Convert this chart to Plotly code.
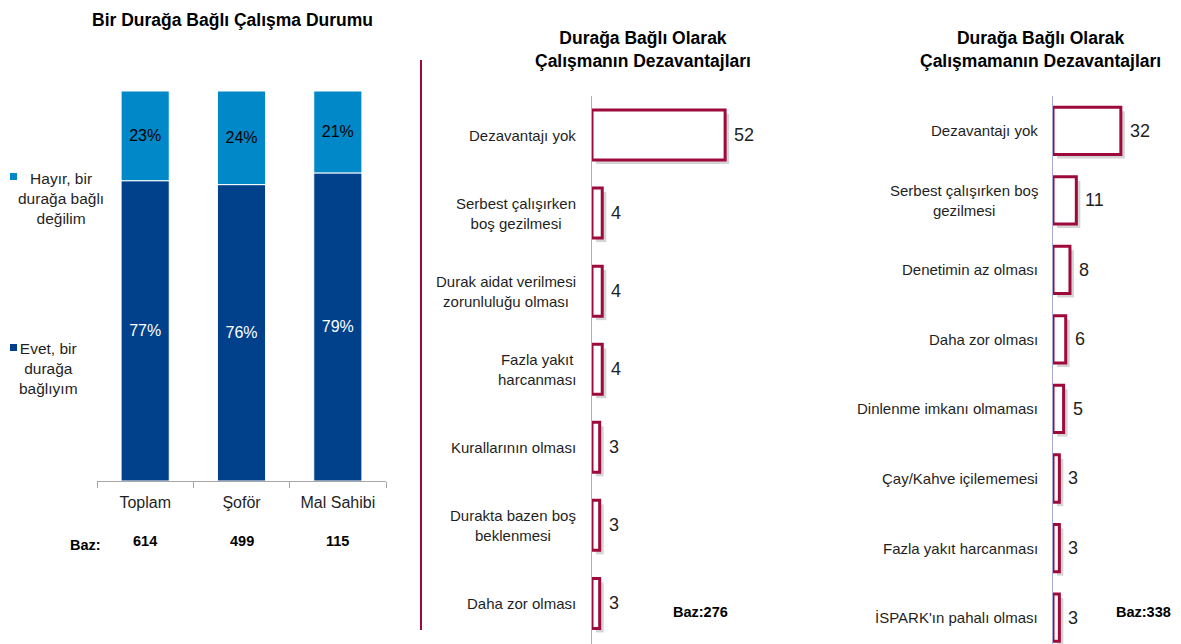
import plotly.graph_objects as go

# page body adds an 8px margin, so the figure is drawn 8px in from the corner
OFF = 8
W, H = 1181 - OFF, 644 - OFF

# left panel data
groups = ["Toplam", "Şoför", "Mal Sahibi"]
evet = [77, 76, 79]
hayir = [23, 24, 21]
baz_left = ["614", "499", "115"]

# middle panel data
yes_labels = ["Dezavantajı yok", "Serbest çalışırken<br>boş gezilmesi",
              "Durak aidat verilmesi<br>zorunluluğu olması", "Fazla yakıt<br>harcanması",
              "Kurallarının olması", "Durakta bazen boş<br>beklenmesi", "Daha zor olması"]
yes_values = [52, 4, 4, 4, 3, 3, 3]

# right panel data
no_labels = ["Dezavantajı yok", "Serbest çalışırken boş<br>gezilmesi", "Denetimin az olması",
             "Daha zor olması", "Dinlenme imkanı olmaması", "Çay/Kahve içilememesi",
             "Fazla yakıt harcanması", "İSPARK'ın pahalı olması"]
no_values = [32, 11, 8, 6, 5, 3, 3, 3]

FONT = "Liberation Sans, Arial, sans-serif"
DARK = "#01408A"
LIGHT = "#0088C8"
CRIMSON = "#9E0B3A"
AXIS = "#A9A9D6"
TXT = "#1F1F1F"
SHADOW = "#D4D4D4"


def px(x):
    return (x - OFF) / W


def py(y):
    return 1 - (y - OFF) / H


def note(x, y, text, size, color=TXT, **kw):
    d = dict(x=x, y=y, xref="paper", yref="paper", text=text, showarrow=False,
             xanchor="center", yanchor="middle", align="center",
             font=dict(size=size, color=color, family=FONT))
    d.update(kw)
    return d


def hbars(values, width, ppu, ppc, xa, ya):
    # soft drop shadow behind each outlined bar, then the bar itself
    n = len(values)
    sx, sy = 4 / ppu, 4 / ppc
    fig.add_trace(go.Bar(
        y=list(range(n)), x=values, base=[sx] * n, orientation="h",
        marker=dict(color=SHADOW, line=dict(width=0)),
        width=width, offset=-width / 2 + sy, hoverinfo="skip",
        xaxis=xa, yaxis=ya))
    fig.add_trace(go.Bar(
        y=list(range(n)), x=values, orientation="h",
        marker=dict(color="white", line=dict(color=CRIMSON, width=3)),
        width=width, offset=-width / 2, xaxis=xa, yaxis=ya))


fig = go.Figure()

# stacked bars
fig.add_trace(go.Bar(
    x=groups, y=evet, name="Evet, bir durağa bağlıyım",
    marker=dict(color=DARK, line=dict(color="white", width=1)),
    width=0.5, texttemplate="%{y}%", textposition="inside",
    insidetextanchor="middle", textangle=0,
    textfont=dict(color="white", size=16, family=FONT),
    xaxis="x", yaxis="y"))
fig.add_trace(go.Bar(
    x=groups, y=hayir, name="Hayır, bir durağa bağlı değilim",
    marker=dict(color=LIGHT, line=dict(color="white", width=1)),
    width=0.5, texttemplate="%{y}%", textposition="inside",
    insidetextanchor="middle", textangle=0,
    textfont=dict(color="black", size=16, family=FONT),
    xaxis="x", yaxis="y"))

X2_PPU = 2.56   # pixels per unit, middle panel
X3_PPU = 2.12   # pixels per unit, right panel
Y2_PPC = 548 / 7.02
Y3_PPC = 548 / 7.88

hbars(yes_values, 0.64, X2_PPU, Y2_PPC, "x2", "y2")
hbars(no_values, 0.68, X3_PPU, Y3_PPC, "x3", "y3")

annotations = []

# titles
annotations.append(note(px(232), py(20), "<b>Bir Durağa Bağlı Çalışma Durumu</b>", 17.5, "black"))
annotations.append(note(px(643), py(50), "<b>Durağa Bağlı Olarak<br>Çalışmanın Dezavantajları</b>",
                        17.5, "black"))
annotations.append(note(px(1040), py(50), "<b>Durağa Bağlı Olarak<br>Çalışmamanın Dezavantajları</b>",
                        17.5, "black"))

# left legend text
annotations.append(note(px(61), py(198), "Hayır, bir<br>durağa bağlı<br>değilim", 15.5))
annotations.append(note(px(48), py(368), "Evet, bir<br>durağa<br>bağlıyım", 15.5))

# baz row
annotations.append(note(px(85), py(545), "<b>Baz:</b>", 14.5, "black"))
for g, b in zip(groups, baz_left):
    annotations.append(note(g, py(541), "<b>" + b + "</b>", 14.5, "black", xref="x"))

# category labels and values for horizontal bars
for i, (lab, v) in enumerate(zip(yes_labels, yes_values)):
    annotations.append(note(px(578), i, lab, 15, xanchor="right", yref="y2"))
    annotations.append(note(v, i, str(v), 18, xanchor="left", xref="x2", yref="y2",
                            xshift=7))
for i, (lab, v) in enumerate(zip(no_labels, no_values)):
    annotations.append(note(px(1040), i, lab, 15, xanchor="right", yref="y3"))
    annotations.append(note(v, i, str(v), 18, xanchor="left", xref="x3", yref="y3",
                            xshift=7))

annotations.append(note(px(700), py(612), "<b>Baz:276</b>", 14.5, "black"))
annotations.append(note(px(1143), py(612), "<b>Baz:338</b>", 14.5, "black"))

shapes = [
    dict(type="line", xref="paper", yref="paper", x0=px(421), x1=px(421),
         y0=py(60), y1=py(630), line=dict(color=CRIMSON, width=2)),
    dict(type="rect", xref="paper", yref="paper", x0=px(10), x1=px(17),
         y0=py(180), y1=py(173), fillcolor=LIGHT, line=dict(width=0)),
    dict(type="rect", xref="paper", yref="paper", x0=px(10), x1=px(17),
         y0=py(351), y1=py(344), fillcolor=DARK, line=dict(width=0)),
]

fig.update_layout(
    width=W, height=H, margin=dict(l=0, r=0, t=0, b=0),
    paper_bgcolor="white", plot_bgcolor="rgba(0,0,0,0)",
    barmode="overlay", showlegend=False,
    font=dict(family=FONT, color=TXT),
    xaxis=dict(domain=[px(97), px(386)], showline=True, linecolor="#A6A6A6",
               ticks="outside", tickson="boundaries", ticklen=6, tickcolor="#A6A6A6",
               tickfont=dict(size=16, color=TXT, family=FONT), showgrid=False,
               ticklabelstandoff=7, anchor="y"),
    yaxis=dict(domain=[py(481), py(91)], range=[0, 100], visible=False,
               anchor="x"),
    xaxis2=dict(domain=[px(592), px(780)], range=[0, 188 / X2_PPU], visible=False,
                anchor="y2"),
    yaxis2=dict(domain=[0, py(96)], range=[6.52, -0.5], showline=True,
                linecolor=AXIS, linewidth=1, showticklabels=False, ticks="",
                showgrid=False, zeroline=False, anchor="x2"),
    xaxis3=dict(domain=[px(1053), px(1170)], range=[0, 117 / X3_PPU], visible=False,
                anchor="y3"),
    yaxis3=dict(domain=[0, py(96)], range=[7.38, -0.5], showline=True,
                linecolor=AXIS, linewidth=1, showticklabels=False, ticks="",
                showgrid=False, zeroline=False, anchor="x3"),
    annotations=annotations, shapes=shapes,
)

# the left panel is stacked; overlay mode is only for the shadow pairs
fig.data[1].update(base=evet)

fig.write_html("out.html")
